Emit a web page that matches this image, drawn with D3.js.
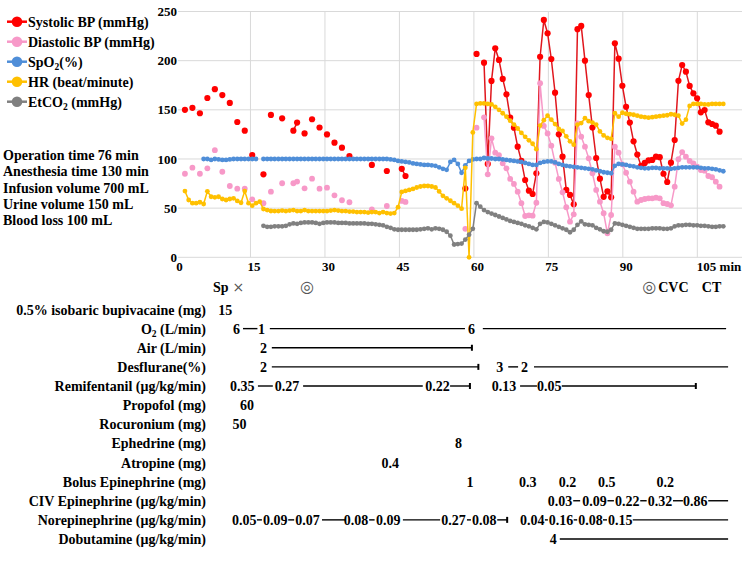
<!DOCTYPE html>
<html><head><meta charset="utf-8">
<script src="https://cdn.jsdelivr.net/npm/d3@7"></script>
<style>
body{margin:0;background:#fff}
svg{display:block}
text{font-family:"Liberation Serif","Times New Roman",serif;font-weight:bold;fill:#000}
</style></head><body>
<svg id="c" width="750" height="578"></svg>
<script>
// ---------------- DATA ----------------
const sampleStart = 1.8;   // minute of first sample
const sampleStep = 0.753;  // minutes between samples

const seriesNames = ["Systolic BP (mmHg)", "Diastolic BP (mmHg)", "SpO₂(%)", "HR (beat/minute)", "EtCO₂ (mmHg)"];

const systolic = [
 150,null,152,null,146.5,null,162,null,171,null,
 165,null,157,null,137.6,null,128.8,null,104,null,
 null,84.4,null,144.8,null,null,141.4,null,null,128.8,
 137,null,126,null,140.4,null,132,null,125,null,
 116.6,null,111.5,null,103,null,null,null,null,null,
 94,null,null,null,87.8,null,null,null,90,82.7,
 null,null,null,null,null,null,null,null,null,null,
 null,null,null,null,null,70,null,null,206.8,null,
 198,95,179.4,212.6,200.7,181.4,165.8,142,131.8,112.5,
 98,78.6,67.8,64.4,85.5,204,241.4,227.9,201.7,167.4,
 125.1,102.3,68.5,63.4,53.9,232,235.3,200,165,132,
 101,80,61.5,67,61,217.7,202,174.5,153,137,
 118,104.5,93,96,98.5,99,102.3,101.8,85,76.6,
 96.2,119.3,179.5,195.6,188.8,174.3,166.8,161.7,147.5,149.8,
 137.3,135.6,133.9,127.8,null];

const diastolic = [
 85,null,91.2,null,85,null,90.5,null,109,null,
 87,null,72.5,null,69.8,null,69.8,null,59,null,
 null,55,null,66.7,null,null,75.3,null,null,75.3,
 77,null,70.2,null,80,null,69.8,null,70.8,null,
 63,null,58,null,56,null,null,null,null,null,
 48.8,null,null,null,52.2,null,null,null,57.3,56.3,
 null,null,null,null,null,null,null,null,null,null,
 null,null,null,null,null,29,null,null,131.8,null,
 142.4,84.4,121,106.4,104,95.6,90.5,79.7,74.6,66.7,
 55,42,42.7,42.3,55.5,177,133.6,126,113.5,96.2,
 79.7,66.1,50.9,36.2,43.7,136.3,122.7,112.5,100.7,85.5,
 68.5,56.6,44.8,24.4,43,112.5,106.4,94.6,86,76.9,
 66.7,56.6,58.3,59.3,60,60,60.6,60,55,54.2,
 52.9,71.8,99.7,107,102.3,98,95.6,92.2,88.8,88.1,
 82.7,81.4,76.9,71.8,null];

const spo2 = [
 null,null,null,null,null,100,100,99,100,99.5,
 99,99,99.5,100,100,100,100,100,100,100,
 null,100,100,100,100,100,100,100,100,100,
 100,100,100,100,100,100,100,100,100,100,
 100,100,100,100,100,100,100,100,100,100,
 100,100,100,100,100,99.5,99,98,97.5,97,
 96.5,95.5,95,94.5,94,94,93.5,93,91.5,90,
 89,97,99,95,86,93.5,98,99.5,100,100,
 101,100.5,100.5,100,100,99.5,99,98.5,98,97.5,
 97,96,95,94,94,96,97,97.5,97.5,96.5,
 95,94,93,92.5,92,91.5,91,90.5,90,89.5,
 88.5,87.5,86.5,86,85.5,93,95,94.5,94,93,
 92.5,91.5,91,90.5,90.5,91,91,90.5,90.5,90.5,
 90,90.5,91,91.5,91.5,91.5,91.5,91.5,91,90.5,
 90.5,90,89.5,88.5,87.5];

const heartRate = [
 67.4,58.3,55,55,56,54.2,67.1,61.6,61,61.6,
 59.3,58.3,59.3,60,57.3,55.5,67.4,55,52.5,55,
 56.6,49.1,48,47.1,47,47,47.5,47,47.5,48,
 47,47,48,47,47,47,47,47,47,47.5,
 48,47.5,47,47,46.5,46.5,46,46,46,45.5,
 46,46,45,46,45,44.5,45,51,66.5,67.5,
 68.5,69.5,71,72,72.5,72.5,72,71,67,62.5,
 60,57.5,55,52.5,49.5,91,0,127,156,156.5,
 156.5,156,155.5,153,150,146.5,143,139,135,131,
 126.5,122.5,119,115.5,110,134,139.5,144,140,135.5,
 130.5,128.5,123,118,114.5,135,136.5,141.5,138.5,137,
 135,128,124,121.5,120.5,146.5,143,147,146,145.5,
 145,144,143,142.5,142,142.5,143,143.5,144,144.5,
 145.5,145,144,136,140,154,156,156,156,155.5,
 155.5,156,156,156,156];

const etco2 = [
 null,null,null,null,null,null,null,null,null,null,
 null,null,null,null,null,null,null,null,null,null,
 null,32,31,31,31.5,31.5,31.5,32,33.5,34.5,
 34,35,35.5,35.5,35.5,35,34,35,35.5,35.5,
 35.5,35,35,35,34.5,34.5,34.5,34.5,34.5,34,
 34,33.5,33,32.5,31,30,28.5,28,28,28,
 28,28,28,28.5,29,29.5,28.5,29.5,29,28,
 26,22,13,13.5,14,18,23,29,55,51.5,
 48,46,44.5,43,41.5,40,38.5,37,36,35,
 34,32.5,31.5,30,28.5,34,36,35.5,34,32.5,
 31,29.5,28,25.5,28,33,36.5,33.5,33,32.5,
 30,28.5,26.5,26,28,34.5,34,33,32,31,
 30,29,29,29,29,29.5,29.5,29.5,29,29,
 29.5,31.5,32.5,32.5,33,33,32.5,32.5,32,32,
 31.5,31,31,31.5,31.5];

const yTicks = [0, 50, 100, 150, 200, 250];
const xTicks = [0, 15, 30, 45, 60, 75, 90, 105];

const infoLines = ["Operation time 76 min", "Anesthesia time 130 min", "Infusion volume 700 mL", "Urine volume 150 mL", "Blood loss 100 mL"];

// procedure marks: [bold prefix, symbol, bold suffix, start minute]
const eventMarks = [["Sp", "×", "", 7.45], ["", "◎", "", 25.0], ["", "◎", "CVC", 93.9], ["CT", "", "", 105.9]];

const rowLabels = ["0.5% isobaric bupivacaine (mg)", "O₂ (L/min)", "Air (L/min)", "Desflurane(%)",
 "Remifentanil (μg/kg/min)", "Propofol (mg)", "Rocuronium (mg)", "Ephedrine (mg)", "Atropine (mg)",
 "Bolus Epinephrine (mg)", "CIV Epinephrine (μg/kg/min)", "Norepinephrine (μg/kg/min)", "Dobutamine (μg/kg/min)"];

// dose texts: [text, start minute]
const rowTexts = [
 [["15", 8.5]],
 [["6", 11.5], ["1", 16.5], ["6", 58.8]],
 [["2", 16.9]],
 [["2", 16.9], ["3", 64.5], ["2", 69.5]],
 [["0.35", 10.9], ["0.27", 19.9], ["0.22", 50.2], ["0.13", 63.6], ["0.05", 72.7]],
 [["60", 12.9]],
 [["50", 11.4]],
 [["8", 56.2]],
 [["0.4", 41.4]],
 [["1", 58.5], ["0.3", 69.1], ["0.2", 77.1], ["0.5", 85], ["0.2", 96.8]],
 [["0.03", 74.9], ["0.09", 81.8], ["0.22", 88.4], ["0.32", 95], ["0.86", 102.1]],
 [["0.05", 11.3], ["0.09", 17.5], ["0.07", 24], ["0.08", 33.8], ["0.09", 40.3], ["0.27", 53.4], ["0.08", 59.6],
  ["0.04", 69.3], ["0.16", 75.1], ["0.08", 81], ["0.15", 87]],
 [["4", 75.3]]
];
// infusion lines: [from minute, to minute, end bar?]
const rowLines = [
 [],
 [[13.5, 16.4], [18.9, 58.2], [61.8, 110.8]],
 [[19.3, 59.6, 1]],
 [[19.3, 60.9, 1], [66.9, 68.9], [72.1, 111.2]],
 [[16.5, 19.5], [25.6, 49.7], [55.2, 59.2, 1], [69.3, 72.7], [77.7, 104.7, 1]],
 [], [], [], [], [],
 [[80, 81.4], [86.9, 88.2], [93.5, 94.8], [100.1, 102.1], [107.2, 111.2]],
 [[16.3, 17.3], [22.6, 23.8], [29.4, 34.2], [38.9, 40.0], [45.7, 53.2], [58.6, 59.4], [64.7, 66.7, 1],
  [74.3, 74.9], [80.1, 80.8], [86, 86.8], [92, 111.2]],
 [[77.3, 111.2]]
];

// ---------------- DRAWING ----------------
const svg = d3.select("#c");
const x = d3.scaleLinear().domain([0, 114]).range([176, 742]);
const y = d3.scaleLinear().domain([0, 250]).range([257.3, 11.5]);
const minutes = systolic.map((_, i) => sampleStart + i * sampleStep);

const colors = {dot: ["#ff0000", "#f799c8", "#4f8ed8", "#ffc000", "#808080"],
                line: ["#e0161d", "#f799c8", "#4f8ed8", "#ffc000", "#808080"]};
const radii = [3.1, 2.9, 2.4, 2.4, 2.4];

function rich(sel, str) {
  const parts = str.split("₂");
  parts.forEach((p, k) => {
    if (k > 0) {
      sel.append("tspan").attr("font-size", "0.68em").attr("dy", 3).text("2");
      sel.append("tspan").attr("dy", -3).text(p);
    } else sel.append("tspan").text(p);
  });
}

// grid
const grid = svg.append("g").attr("stroke", "#d9d9d9").attr("stroke-width", 1);
grid.selectAll("line.h").data(yTicks).join("line")
  .attr("x1", 178).attr("x2", 742).attr("y1", d => y(d)).attr("y2", d => y(d));
grid.selectAll("line.v").data(xTicks.filter(d => d > 0)).join("line")
  .attr("x1", d => x(d)).attr("x2", d => x(d)).attr("y1", y(0)).attr("y2", y(250));

// axes
const ya = svg.append("g").attr("transform", "translate(177,0)")
  .call(d3.axisLeft(y).tickValues(yTicks).tickSize(0).tickPadding(0));
ya.select(".domain").remove();
ya.selectAll("text").attr("font-size", 13).attr("font-family", "Liberation Serif").attr("font-weight", "bold");

const xa = svg.append("g").attr("transform", "translate(3,262)")
  .call(d3.axisBottom(x).tickValues(xTicks).tickSize(0).tickPadding(0)
    .tickFormat(d => d === 105 ? "105 min" : d));
xa.select(".domain").remove();
xa.selectAll("text").attr("font-size", 13).attr("font-family", "Liberation Serif").attr("font-weight", "bold");
xa.selectAll(".tick").filter(d => d === 105).select("text").attr("text-anchor", "start").attr("x", -4);

// series
const allSeries = [systolic, diastolic, spo2, heartRate, etco2];
const line = d3.line().defined(d => d[1] != null).x(d => x(d[0])).y(d => y(d[1]));
allSeries.forEach((vals, s) => {
  const pts = vals.map((v, i) => [minutes[i], v]);
  const g = svg.append("g");
  g.append("path").attr("d", line(pts)).attr("fill", "none")
    .attr("stroke", colors.line[s]).attr("stroke-width", 1.5);
  g.selectAll("circle").data(pts.filter(d => d[1] != null)).join("circle")
    .attr("cx", d => x(d[0])).attr("cy", d => y(d[1])).attr("r", radii[s])
    .attr("fill", colors.dot[s]);
});

// legend
const lg = svg.append("g").selectAll("g").data(seriesNames).join("g")
  .attr("transform", (d, i) => `translate(0,${21.7 + i * 20})`);
lg.append("line").attr("x1", 7).attr("x2", 27).attr("stroke", (d, i) => colors.dot[i]).attr("stroke-width", 2.5);
lg.append("circle").attr("cx", 17).attr("r", 5.3).attr("fill", (d, i) => colors.dot[i]);
lg.append("text").attr("x", 28).attr("y", 5).attr("font-size", 14).each(function(d) { rich(d3.select(this), d); });

// info text
svg.append("g").selectAll("text").data(infoLines).join("text")
  .attr("x", 3).attr("y", (d, i) => 160 + i * 16.3).attr("font-size", 14).text(d => d);

// event marks
const ev = svg.append("g").selectAll("text").data(eventMarks).join("text")
  .attr("x", d => x(d[3])).attr("y", 291.5).attr("font-size", 14);
ev.append("tspan").text(d => d[0]);
ev.append("tspan").attr("font-weight", "normal").attr("fill", "#555")
  .attr("font-family", "DejaVu Sans")
  .attr("font-size", d => d[1] === "◎" ? 16 : 14)
  .attr("dx", d => d[0] ? 4 : 0).text(d => d[1]);
ev.append("tspan").attr("dx", 2).text(d => d[2]);

// medication table
const rowY = d3.scalePoint().domain(rowLabels).range([309.5, 539]);
const rows = svg.append("g").selectAll("g").data(rowLabels).join("g")
  .attr("transform", d => `translate(0,${rowY(d)})`);
rows.append("text").attr("x", 206).attr("y", 5).attr("text-anchor", "end").attr("font-size", 14)
  .each(function(d) { rich(d3.select(this), d); });
rows.each(function(d, r) {
  const g = d3.select(this);
  g.selectAll("text.v").data(rowTexts[r]).join("text").attr("class", "v")
    .attr("x", t => x(t[1])).attr("y", 5).attr("font-size", 14).text(t => t[0]);
  g.selectAll("line.l").data(rowLines[r]).join("line").attr("class", "l")
    .attr("x1", l => x(l[0])).attr("x2", l => x(l[1])).attr("y1", 0).attr("y2", 0)
    .attr("stroke", "#000").attr("stroke-width", 1.4);
  g.selectAll("line.e").data(rowLines[r].filter(l => l[2])).join("line").attr("class", "e")
    .attr("x1", l => x(l[1])).attr("x2", l => x(l[1])).attr("y1", -3).attr("y2", 3)
    .attr("stroke", "#000").attr("stroke-width", 2);
});
</script>
</body></html>
